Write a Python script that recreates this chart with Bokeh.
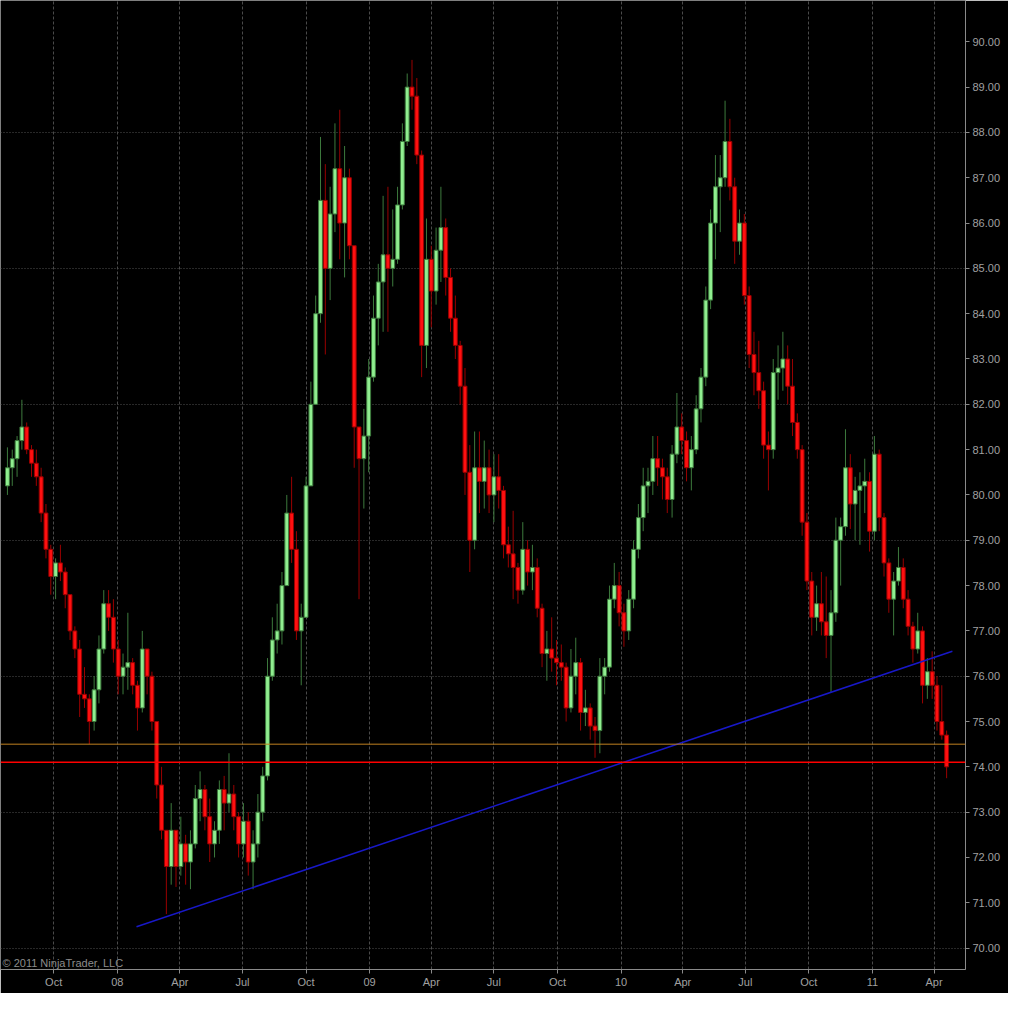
import numpy as np
import pandas as pd
from bokeh.plotting import figure
from bokeh.models import FixedTicker, Label, Span, NumeralTickFormatter
from bokeh.embed import file_html
from bokeh.resources import INLINE

# ---------------- data (weekly bars) ----------------
first_week = "2007-07-23"
first_open = 80.2
closes = [
    80.6, 80.8, 81.2, 81.5, 81.0, 80.7, 80.4, 79.6, 78.8, 78.2,
    78.5, 78.3, 77.8, 77.0, 76.6, 75.6, 75.5, 75.0, 75.7, 76.6,
    77.6, 77.3, 76.6, 76.0, 76.2, 76.3, 75.8, 75.3, 76.6, 76.0,
    75.0, 73.6, 72.6, 71.8, 72.6, 71.8, 72.3, 71.9, 72.3, 73.3,
    73.5, 72.9, 72.3, 72.6, 73.5, 73.2, 73.4, 72.9, 72.3, 72.8,
    71.9, 72.3, 73.0, 73.8, 76.0, 76.8, 77.0, 78.0, 79.6, 78.8,
    77.0, 77.3, 80.2, 82.0, 84.0, 86.5, 85.0, 86.2, 87.2, 86.0,
    87.0, 85.5, 81.5, 80.8, 81.3, 82.6, 83.9, 84.7, 85.3, 85.0,
    85.2, 86.4, 87.8, 89.0, 88.8, 87.5, 83.3, 85.2, 84.5, 85.4,
    85.9, 84.8, 83.9, 83.3, 82.4, 80.5, 79.0, 80.6, 80.3, 80.6,
    80.0, 80.4, 80.1, 78.9, 78.7, 78.4, 77.9, 78.8, 78.3, 78.4,
    77.5, 76.5, 76.6, 76.4, 76.3, 76.2, 75.3, 76.0, 76.3, 75.2,
    75.3, 74.9, 74.8, 76.0, 76.2, 77.7, 78.0, 77.4, 77.0, 77.7,
    78.8, 79.5, 80.2, 80.3, 80.8, 80.6, 80.4, 79.9, 80.9, 81.5,
    81.2, 80.6, 81.0, 81.9, 82.6, 84.3, 86.0, 86.8, 87.0, 87.8,
    86.8, 85.6, 86.0, 84.4, 83.1, 82.7, 82.3, 81.1, 81.0, 82.7,
    82.8, 83.0, 82.4, 81.6, 81.0, 79.4, 78.1, 77.3, 77.6, 77.2,
    76.9, 77.4, 79.0, 79.3, 80.6, 79.8, 80.1, 80.2, 80.3, 79.2,
    80.9, 79.5, 78.5, 77.7, 78.1, 78.4, 77.7, 77.1, 76.6, 77.0,
    75.8, 76.1, 75.8, 75.0, 74.7, 74.0,
]
highs = [
    81.05, 81.0, 81.3, 82.1, 81.6, 81.1, 81.0, 80.6, 79.8, 78.9,
    78.6, 78.9, 78.4, 77.8, 77.1, 76.8, 76.2, 75.6, 76.0, 76.9,
    77.9, 77.9, 77.7, 76.8, 76.5, 77.4, 76.4, 75.9, 77.0, 76.6,
    76.1, 75.0, 74.0, 72.6, 73.2, 72.6, 72.9, 72.5, 72.6, 73.6,
    73.9, 73.6, 73.3, 72.8, 73.7, 73.8, 74.3, 73.6, 73.0, 73.2,
    73.0, 72.6, 73.4, 74.0, 76.4, 77.3, 77.6, 78.3, 80.0, 80.4,
    79.2, 77.6, 80.4, 82.5, 84.4, 87.9, 87.3, 86.8, 88.2, 88.5,
    87.7, 87.2, 85.5, 81.5, 81.9, 83.0, 84.4, 85.1, 86.6, 86.8,
    86.3, 86.8, 88.2, 89.3, 89.6, 89.2, 87.6, 86.1, 85.5, 85.9,
    86.8, 86.1, 85.0, 84.4, 83.4, 82.8, 81.1, 81.4, 81.4, 81.2,
    81.0, 80.9, 80.9, 80.2, 79.3, 79.65, 78.5, 79.4, 79.0, 78.9,
    78.6, 77.6, 77.0, 77.3, 76.8, 76.7, 76.3, 76.6, 76.85, 76.4,
    75.7, 75.4, 75.1, 76.4, 76.4, 78.0, 78.5, 78.3, 77.6, 77.9,
    79.0, 79.8, 80.6, 80.6, 81.3, 81.3, 80.8, 80.6, 81.1, 82.25,
    81.8, 81.4, 81.3, 82.2, 82.8, 84.6, 86.3, 87.5, 87.5, 88.7,
    88.3, 87.0, 86.3, 86.2, 84.6, 83.6, 83.4, 82.5, 81.4, 83.0,
    83.3, 83.6, 83.3, 83.0, 81.8, 81.1, 79.6, 78.3, 78.0, 78.3,
    78.2, 77.9, 79.5, 79.5, 81.45, 80.9, 80.4, 80.5, 80.8, 80.5,
    81.3, 81.0, 79.6, 78.6, 78.3, 78.85, 78.6, 77.9, 77.2, 77.4,
    77.1, 76.4, 76.55, 76.0, 75.8, 74.8,
]
lows = [
    80.0, 80.2, 80.4, 81.0, 80.9, 80.4, 80.2, 79.4, 78.6, 77.8,
    77.7, 78.1, 77.5, 76.8, 76.4, 75.1, 75.3, 74.5, 74.8, 75.4,
    76.5, 77.0, 76.3, 75.6, 75.6, 75.7, 75.6, 74.8, 75.2, 75.6,
    74.8, 73.3, 72.4, 70.75, 71.4, 71.35, 71.6, 71.4, 71.3, 72.2,
    72.8, 72.6, 71.9, 72.0, 72.3, 72.6, 73.0, 72.6, 72.0, 72.0,
    71.6, 71.3, 72.0, 72.8, 73.7, 75.9, 76.5, 76.7, 78.0, 78.5,
    76.8, 75.8, 77.3, 80.2, 82.0, 83.8, 83.1, 84.3, 85.8, 85.2,
    84.8, 85.2, 80.6, 77.7, 79.7, 80.5, 82.5, 83.3, 83.6, 83.6,
    84.6, 85.1, 86.3, 87.7, 88.5, 87.3, 82.6, 82.8, 83.7, 84.2,
    84.7, 84.4, 83.6, 83.0, 82.0, 80.0, 78.3, 78.8, 79.6, 79.7,
    79.6, 79.4, 79.7, 78.6, 78.4, 77.7, 77.6, 77.8, 78.0, 77.9,
    77.3, 76.2, 75.9, 76.1, 75.8, 75.9, 75.0, 75.2, 75.6, 74.8,
    74.9, 74.6, 74.2, 74.3, 75.6, 76.1, 77.5, 77.1, 76.65, 76.8,
    77.5, 78.6, 79.2, 79.6, 80.0, 80.2, 79.9, 79.6, 79.5, 80.7,
    80.9, 80.3, 80.1, 80.9, 81.6, 82.4, 84.1, 85.2, 85.8, 86.8,
    86.5, 85.1, 85.3, 84.2, 82.8, 82.2, 81.9, 80.8, 80.1, 80.8,
    82.1, 82.3, 82.0, 81.3, 80.8, 79.1, 77.9, 76.9, 77.0, 76.9,
    76.4, 75.65, 77.2, 78.0, 79.1, 79.25, 79.0, 78.9, 79.6, 78.75,
    79.0, 79.2, 78.2, 77.4, 76.9, 78.0, 77.5, 76.9, 76.3, 76.5,
    75.4, 75.5, 75.5, 74.8, 74.6, 73.75,
]

quarter_dates = ["2007-10-01", "2008-01-01", "2008-04-01", "2008-07-01", "2008-10-01",
                 "2009-01-01", "2009-04-01", "2009-07-01", "2009-10-01", "2010-01-01",
                 "2010-04-01", "2010-07-01", "2010-10-01", "2011-01-01", "2011-04-01"]
quarter_labels = ["Oct", "08", "Apr", "Jul", "Oct", "09", "Apr", "Jul", "Oct", "10",
                  "Apr", "Jul", "Oct", "11", "Apr"]
price_ticks = list(range(70, 91))
grid_levels = [70, 73, 76, 79, 82, 85, 88]

trend_dates = ["2008-01-29", "2011-04-28"]
trend_prices = [70.47, 76.55]
support_level = 74.5
neck_level = 74.1

# ---------------- derived positions (trading-day index) ----------------
base = np.datetime64("2007-10-01")
weeks = pd.date_range(first_week, periods=len(closes), freq="W-MON").values.astype("datetime64[D]")
xs = np.busday_count(base, weeks) + 2.0
opens = np.array([first_open] + closes[:-1])
closes_a = np.array(closes)
highs_a = np.array(highs)
lows_a = np.array(lows)
up = closes_a >= opens
body_top = np.maximum(opens, closes_a)
body_bot = np.minimum(opens, closes_a)

qticks = [int(np.busday_count(base, np.datetime64(d))) for d in quarter_dates]
tx = [float(np.busday_count(base, np.datetime64(d))) for d in trend_dates]

# ---------------- figure ----------------
p = figure(width=1008, height=993, output_backend="svg", toolbar_location=None,
           x_range=(-55.2, 946.6), y_range=(69.528, 90.911), y_axis_location="right",
           background_fill_color="black", border_fill_color="black",
           min_border_left=0, min_border_top=0, min_border_right=43, min_border_bottom=24)
p.outline_line_color = None

# grids
p.xgrid.ticker = FixedTicker(ticks=qticks)
p.xgrid.grid_line_color = "#4a4a4a"
p.xgrid.grid_line_dash = "3 2"
p.xgrid.grid_line_width = 1
p.ygrid.ticker = FixedTicker(ticks=grid_levels)
p.ygrid.grid_line_color = "#505050"
p.ygrid.grid_line_dash = "1 2"
p.ygrid.grid_line_width = 1

# axes
xa = p.xaxis[0]
xa.ticker = FixedTicker(ticks=qticks)
xa.major_label_overrides = {t: l for t, l in zip(qticks, quarter_labels)}
ya = p.yaxis[0]
ya.ticker = FixedTicker(ticks=price_ticks)
ya.formatter = NumeralTickFormatter(format="0.00")
for ax in (xa, ya):
    ax.axis_line_color = "#8a8a8a"
    ax.major_tick_line_color = "#8a8a8a"
    ax.major_tick_out = 4
    ax.major_tick_in = 0
    ax.minor_tick_line_color = None
    ax.major_label_text_color = "#a0a0a0"
    ax.major_label_text_font = "Liberation Sans"
    ax.major_label_text_font_size = "11px"
xa.major_label_standoff = 2
ya.major_label_standoff = 3

# candles
up_fill, up_line = "#90ee90", "#3d7a3d"
dn_fill, dn_line = "#ff1010", "#9a0000"
for mask, fc, lc in ((up, up_fill, up_line), (~up, dn_fill, dn_line)):
    p.segment(xs[mask], highs_a[mask], xs[mask], lows_a[mask], line_color=lc, line_width=1)
    p.vbar(x=xs[mask], width=4.0, top=body_top[mask], bottom=body_bot[mask],
           fill_color=fc, line_color=lc, line_width=1)

# horizontal levels and trend line
p.add_layout(Span(location=support_level, dimension="width", line_color="#c08020", line_width=1))
p.add_layout(Span(location=neck_level, dimension="width", line_color="#ff0000", line_width=1.5))
p.line(tx, trend_prices, line_color="#1818c8", line_width=1.5)

# copyright text
p.add_layout(Label(x=2, y=1, x_units="screen", y_units="screen", text="© 2011 NinjaTrader, LLC",
                   text_color="#8c8c8c", text_font="Liberation Sans", text_font_size="11px",
                   text_baseline="bottom"))

open("out.html", "w").write(file_html(p, INLINE))
